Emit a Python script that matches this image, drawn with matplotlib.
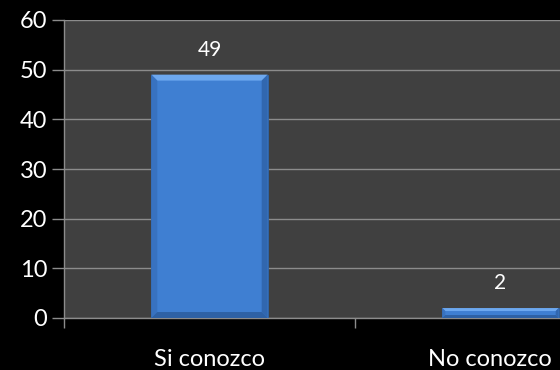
import matplotlib
matplotlib.use("Agg")
import matplotlib.pyplot as plt
from matplotlib.patches import Polygon
from matplotlib.transforms import ScaledTranslation
import numpy as np

categories = ["Si conozco", "No conozco"]
values = [49, 2]
y_ticks = [0, 10, 20, 30, 40, 50, 60]

plt.rcParams['font.family'] = ['Lato', 'DejaVu Sans']

fig = plt.figure(figsize=(5.6, 3.7), dpi=100, facecolor="black")
# plot area runs past the right edge of the canvas
ax = fig.add_axes([64 / 560, 52 / 370, 582 / 560, 298 / 370])
ax.set_facecolor("#404040")

x = np.arange(len(categories))
bar_w = 0.40
bars = ax.bar(x, values, width=bar_w, color="#3f7fd2", zorder=3,
              edgecolor="#2f64a8", linewidth=0.6)

ax.set_xlim(-0.5, len(categories) - 0.5)
ax.set_ylim(0, 60)

# bevel shading on each bar
bx = 6 / 291  # x bevel in data units (~6 px)
for xi, v in zip(x, values):
    x0, x1 = xi - bar_w / 2, xi + bar_w / 2
    by = min(1.2, v * 0.3)
    bxx = bx if v > 5 else 3 / 291
    top = Polygon([[x0, v], [x1, v], [x1 - bxx, v - by], [x0 + bxx, v - by]],
                  closed=True, facecolor="#6da8ef", edgecolor="none", zorder=4)
    left = Polygon([[x0, v], [x0 + bxx, v - by], [x0 + bxx, by], [x0, 0]],
                   closed=True, facecolor="#3872c0", edgecolor="none", zorder=4)
    right = Polygon([[x1, v], [x1 - bxx, v - by], [x1 - bxx, by], [x1, 0]],
                    closed=True, facecolor="#3167af", edgecolor="none", zorder=4)
    bottom = Polygon([[x0, 0], [x1, 0], [x1 - bxx, by], [x0 + bxx, by]],
                     closed=True, facecolor="#2e61a5", edgecolor="none", zorder=4)
    for p in (top, left, right, bottom):
        ax.add_patch(p)
    ax.text(xi, v + 3.0, str(v), ha="center", va="bottom", color="white",
            fontsize=15, zorder=5)

ax.set_yticks(y_ticks)
ax.set_yticklabels([str(t) for t in y_ticks], color="white", fontsize=17)
ax.grid(axis="y", color="#8c8c8c", linewidth=1.0, zorder=1)
ax.set_axisbelow(True)

# category ticks sit on boundaries, labels at centres
ax.set_xticks(np.arange(len(categories) + 1) - 0.5)
ax.set_xticklabels([])
ax.set_xticks(x, minor=True)
ax.set_xticklabels(categories, minor=True, color="white", fontsize=17)
ax.tick_params(axis="x", which="minor", length=0, pad=22)
ax.tick_params(axis="x", which="major", length=7, color="#8c8c8c", width=1)
ax.tick_params(axis="y", length=9, color="#8c8c8c", width=1, pad=3)

# keep the last category label inside the canvas
last = ax.get_xticklabels(minor=True)[-1]
last.set_transform(last.get_transform() + ScaledTranslation(-8 / 72, 0, fig.dpi_scale_trans))

for side in ("top", "right"):
    ax.spines[side].set_visible(False)
for side in ("left", "bottom"):
    ax.spines[side].set_color("#8c8c8c")
    ax.spines[side].set_linewidth(1.0)

fig.savefig("out.png", dpi=100, facecolor="black")
